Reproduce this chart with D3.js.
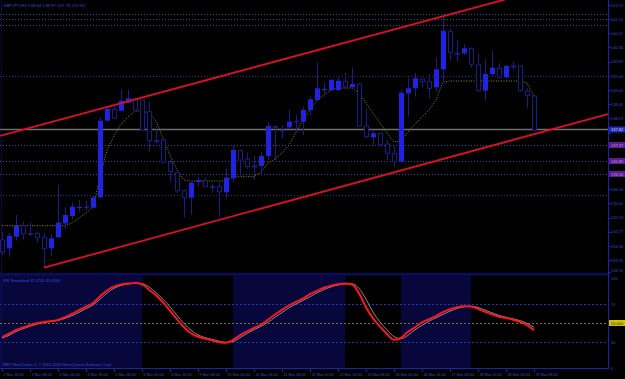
<!DOCTYPE html>
<html lang="en">
<head>
<meta charset="utf-8">
<title>GBPJPY,H4</title>
<style>
  html, body { margin: 0; padding: 0; background: #000; }
  svg { display: block; }
  text { font-family: "Liberation Sans", Arial, sans-serif; }
</style>
</head>
<body>
<script src="https://d3js.org/d3.v7.min.js"></script>
<script>
// H4 bars
const barOpen = [134.52,134.27,134.62,134.95,134.71,134.72,134.60,134.27,134.60,135.02,
  135.24,135.50,135.51,135.49,135.80,138.10,138.44,138.40,138.64,138.75,
  138.72,138.37,137.50,137.52,136.85,136.54,136.00,135.79,136.26,136.30,
  136.12,136.12,135.95,136.37,137.20,136.94,136.74,136.74,137.04,137.93,
  137.82,137.90,138.07,138.07,138.42,138.72,139.04,139.02,139.02,139.27,
  139.10,139.20,137.94,137.60,137.72,137.40,137.12,136.87,138.92,139.07,
  139.35,139.27,139.10,139.64,140.77,140.12,140.12,140.27,139.77,139.00,
  139.50,139.67,139.40,139.74,139.74,138.99,138.84];
const barHigh = [134.76,134.73,135.27,135.07,135.04,134.77,134.72,134.70,136.17,135.50,
  135.64,135.72,135.70,135.87,138.22,138.52,138.60,139.04,139.02,138.80,
  138.74,138.67,137.92,137.60,136.92,136.57,136.04,136.27,136.42,136.38,
  136.22,136.27,136.67,137.37,137.24,137.14,137.04,137.17,138.07,137.94,
  137.97,138.42,138.27,138.52,138.82,139.84,139.24,139.37,139.40,139.54,
  139.70,139.22,138.47,137.82,137.74,137.52,137.34,139.02,139.38,139.54,
  139.37,139.50,140.00,141.22,140.87,140.52,140.39,140.29,140.12,139.97,
  140.19,139.82,139.77,139.87,139.77,139.07,138.87];
const barLow = [134.07,134.02,134.50,134.54,134.64,134.44,133.69,134.04,134.59,134.84,
  135.14,135.37,135.40,135.47,135.79,138.07,138.14,138.37,138.62,138.41,
  137.81,137.17,137.42,136.82,136.27,135.94,135.20,135.27,136.14,136.11,
  135.92,135.22,135.77,136.24,136.44,136.65,136.32,136.44,136.92,136.92,
  137.57,137.87,137.74,137.67,138.27,138.70,138.82,139.00,139.00,139.10,
  139.07,137.92,137.57,137.37,137.32,136.92,136.72,136.86,138.22,138.82,
  139.10,138.77,138.97,139.27,139.89,139.87,140.07,139.69,138.97,138.70,
  139.42,139.37,139.37,139.62,138.97,138.47,137.79];
const barClose = [134.16,134.64,134.95,134.70,134.70,134.60,134.27,134.57,135.04,135.27,
  135.52,135.51,135.52,135.80,138.10,138.45,138.17,138.70,138.77,138.42,
  137.82,137.50,137.49,136.85,136.57,136.00,135.80,136.24,136.32,136.12,
  136.11,135.97,136.39,137.22,136.92,136.72,136.73,137.04,137.94,137.91,
  137.83,138.07,138.08,138.42,138.74,139.07,139.05,139.32,139.30,139.12,
  139.20,137.94,137.62,137.72,137.37,137.12,136.87,138.94,139.07,139.37,
  139.27,139.07,139.64,140.79,140.14,140.11,140.27,139.79,139.00,139.50,
  139.69,139.40,139.74,139.73,139.00,138.85,137.82];

// yellow dotted line on the price chart
const midLine = [134.95,134.95,134.95,134.95,134.95,134.95,134.95,134.95,134.95,134.95,
  135.03,135.18,135.33,135.51,136.41,137.22,137.64,138.00,138.21,138.39,
  138.39,138.33,138.09,137.58,137.07,136.62,136.32,136.29,136.29,136.29,
  136.29,136.29,136.29,136.41,136.42,136.42,136.42,136.56,136.83,136.95,
  137.13,137.37,137.76,138.12,138.42,138.72,138.87,139.02,139.08,139.08,
  139.08,138.93,138.63,138.33,138.03,137.73,137.46,137.49,137.76,138.00,
  138.21,138.42,138.72,139.26,139.29,139.29,139.29,139.29,139.29,139.29,
  139.29,139.29,139.29,139.29,139.29,139.23,138.84];

// oscillator panel
const rsiMain = [35.05,38.74,42.63,45.26,47.68,49.68,51.16,52.0,53.16,56.21,
  59.58,63.47,67.16,70.95,78.0,84.21,88.21,90.53,91.58,92.0,
  90.84,85.05,79.26,71.68,62.95,54.0,45.58,39.26,35.58,33.68,
  31.68,29.79,29.26,32.11,37.05,41.16,44.74,48.21,53.47,58.95,
  63.89,68.42,72.21,75.58,80.32,83.79,87.16,89.26,90.84,91.58,
  90.53,81.37,66.63,54.84,46.11,38.42,32.32,34.21,40.84,45.47,
  50.63,54.0,57.26,61.37,64.42,66.53,67.68,67.37,64.84,61.89,
  59.05,56.63,55.16,53.47,51.16,47.79,42.47];
const rsiSignal = [34,37,41,44,46.6,48.8,50.5,51.6,52.7,54.9,
  57.7,61.3,65.1,69,75,81.5,86.5,89.5,91.1,91.8,
  91.5,88,82,75,67,58,49.5,42.5,37.5,34.6,
  32.8,30.9,29.6,30.5,34.5,39,43,46.5,50.8,56,
  61,66,70,73.8,77.7,81.8,85.2,88,90,91.2,
  91.2,86.5,75,61.5,51,42.8,35.8,33.5,37,42.8,
  47.5,52,55.5,59,62.5,65.3,67,67.6,66.4,63.6,
  60.7,58,56,54.4,52.5,49.7,45.44];
const risingZones = [[-1, 20], [33, 49], [57, 67]];
const oscLevels = [70, 30];
const oscMid = 50;
const oscTicks = [100, 70, 30, 0];

// objects on the price chart
const channelLow = [[6, 133.69], [63, 136.95]];
const channelHighAt63 = 141.22;
const dottedPurple = [141.30, 141.15, 140.97];
const dottedNavy = [139.44, 135.87];
const markedLevels = [137.37, 136.89, 136.50];

// axes
const priceTicks = [141.57,141.15,140.72,140.30,139.87,139.44,139.02,138.60,138.17,137.74,
  137.32,136.90,136.47,136.04,135.62,135.19,134.77,134.34,133.92,133.50];
const timeLabels = ["2 Mar 16:00","3 Mar 08:00","4 Mar 00:00","4 Mar 16:00","5 Mar 08:00",
  "6 Mar 00:00","6 Mar 16:00","9 Mar 08:00","10 Mar 00:00","10 Mar 16:00",
  "11 Mar 08:00","12 Mar 00:00","12 Mar 16:00","13 Mar 08:00","16 Mar 00:00",
  "16 Mar 16:00","17 Mar 08:00","18 Mar 00:00","18 Mar 16:00","19 Mar 08:00"];

const W = 625, H = 379;
const axisX = 608, mainBottom = 273, oscBottom = 368;
const textCol = "#3a48d6";
const last = barClose.length - 1;

const svg = d3.select("body").append("svg")
    .attr("width", W).attr("height", H)
    .style("background", "#000");

const x = d3.scaleLinear().domain([0, 76]).range([2, 534]);
const y = d3.scaleLinear().domain([133.56, 141.72]).range([272, 0]);
const yo = d3.scaleLinear().domain([0, 100]).range([370.5, 275.5]);

const defs = svg.append("defs");
defs.append("clipPath").attr("id", "mainClip")
    .append("rect").attr("x", 0).attr("y", 0).attr("width", axisX).attr("height", mainBottom);
defs.append("clipPath").attr("id", "oscClip")
    .append("rect").attr("x", 0).attr("y", 275).attr("width", axisX).attr("height", oscBottom - 275);

const main = svg.append("g").attr("clip-path", "url(#mainClip)");
const osc = svg.append("g").attr("clip-path", "url(#oscClip)");

//horizontal objects
main.selectAll(".lvlP").data(dottedPurple.concat(markedLevels)).enter().append("line")
    .attr("x1", 0).attr("x2", axisX)
    .attr("y1", d => Math.round(y(d)) + 0.5).attr("y2", d => Math.round(y(d)) + 0.5)
    .attr("stroke", "#4f3c9e").attr("stroke-dasharray", "1,2");
main.selectAll(".lvlN").data(dottedNavy).enter().append("line")
    .attr("x1", 0).attr("x2", axisX)
    .attr("y1", d => Math.round(y(d)) + 0.5).attr("y2", d => Math.round(y(d)) + 0.5)
    .attr("stroke", "#2a2a86").attr("stroke-dasharray", "1,2");

//bid line
main.append("line")
    .attr("x1", 0).attr("x2", axisX)
    .attr("y1", y(barClose[last]) - 0.5).attr("y2", y(barClose[last]) - 0.5)
    .attr("stroke", "#6e6e6e").attr("stroke-width", 1.6);

//yellow dotted line
main.append("path")
    .datum(midLine)
    .attr("d", d3.line().x((d, i) => x(i)).y(d => y(d)))
    .attr("fill", "none").attr("stroke", "#8c8c1e")
    .attr("stroke-width", 1).attr("stroke-dasharray", "1,1.5");

//candles
const bars = d3.range(barOpen.length);
const cg = main.append("g");
cg.selectAll(".wick").data(bars).enter().append("line")
    .attr("x1", i => x(i) + 0.5).attr("x2", i => x(i) + 0.5)
    .attr("y1", i => y(barHigh[i])).attr("y2", i => y(barLow[i]))
    .attr("stroke", "#1c1c86");
cg.selectAll(".body").data(bars).enter().append("rect")
    .attr("x", i => barClose[i] > barOpen[i] ? x(i) - 2 : x(i) - 1.5)
    .attr("width", i => barClose[i] > barOpen[i] ? 5 : 4)
    .attr("y", i => y(Math.max(barOpen[i], barClose[i])))
    .attr("height", i => Math.max(1, Math.abs(y(barOpen[i]) - y(barClose[i]))))
    .attr("fill", i => barClose[i] > barOpen[i] ? "#2222e2" : "#000")
    .attr("stroke", i => barClose[i] > barOpen[i] ? "none" : "#1c1c86")
    .attr("stroke-width", 1);

//channel
const slope = (channelLow[1][1] - channelLow[0][1]) / (channelLow[1][0] - channelLow[0][0]);
const lowAt = b => channelLow[0][1] + (b - channelLow[0][0]) * slope;
const highAt = b => channelHighAt63 + (b - 63) * slope;
const bLeft = x.invert(0), bRight = x.invert(axisX);
main.append("line")
    .attr("x1", x(channelLow[0][0])).attr("y1", y(lowAt(channelLow[0][0])))
    .attr("x2", x(bRight)).attr("y2", y(lowAt(bRight)))
    .attr("stroke", "#dc0f2a").attr("stroke-width", 1.8);
main.append("line")
    .attr("x1", x(bLeft)).attr("y1", y(highAt(bLeft)) - 1.5)
    .attr("x2", x(bRight)).attr("y2", y(highAt(bRight)))
    .attr("stroke", "#dc0f2a").attr("stroke-width", 1.8);

//title
svg.append("text").attr("x", 3).attr("y", 7)
    .attr("font-size", 4.4).attr("fill", textCol)
    .text("GBPJPY,H4  " + [barOpen[last], barHigh[last], barLow[last], barClose[last]].map(d => d.toFixed(2)).join(" "));

//oscillator panel
osc.selectAll(".zone").data(risingZones).enter().append("rect")
    .attr("x", d => Math.max(0, x(d[0]))).attr("y", 275)
    .attr("width", d => x(d[1]) - Math.max(0, x(d[0])))
    .attr("height", oscBottom - 275)
    .attr("fill", "#07073c");
osc.selectAll(".olvl").data(oscLevels).enter().append("line")
    .attr("x1", 0).attr("x2", axisX)
    .attr("y1", d => Math.round(yo(d)) + 0.5).attr("y2", d => Math.round(yo(d)) + 0.5)
    .attr("stroke", "#2636a6").attr("stroke-dasharray", "2,2");
osc.append("line")
    .attr("x1", 0).attr("x2", axisX)
    .attr("y1", Math.round(yo(oscMid)) + 0.5).attr("y2", Math.round(yo(oscMid)) + 0.5)
    .attr("stroke", "#77771e").attr("stroke-dasharray", "2,2");
osc.append("path").datum(rsiSignal)
    .attr("d", d3.line().x((d, i) => x(i)).y(d => yo(d)).curve(d3.curveMonotoneX))
    .attr("fill", "none").attr("stroke", "#8a8a8a").attr("stroke-width", 1);
osc.append("path").datum(rsiMain)
    .attr("d", d3.line().x((d, i) => x(i)).y(d => yo(d)).curve(d3.curveMonotoneX))
    .attr("fill", "none").attr("stroke", "#ff1420").attr("stroke-width", 2);

svg.append("text").attr("x", 3).attr("y", 282)
    .attr("font-size", 4).attr("fill", textCol)
    .text("RSI Smoothed " + rsiMain[last].toFixed(4) + " " + rsiSignal[last].toFixed(4));
svg.append("text").attr("x", 3).attr("y", 366)
    .attr("font-size", 4).attr("fill", textCol)
    .text("MBT MetaTrader 4, \u00a9 2001-2009 MetaQuotes Software Corp.");

//frame
svg.append("line").attr("x1", 1.5).attr("x2", 1.5).attr("y1", 0).attr("y2", oscBottom)
    .attr("stroke", "#14146e").attr("stroke-dasharray", "1,1");
svg.append("rect").attr("x", 0).attr("y", mainBottom).attr("width", axisX).attr("height", 2.5)
    .attr("fill", "#0c0c5e");
svg.append("line").attr("x1", 0).attr("x2", axisX + 1).attr("y1", oscBottom + 0.5).attr("y2", oscBottom + 0.5)
    .attr("stroke", "#1c24a4");
svg.append("line").attr("x1", axisX + 0.5).attr("x2", axisX + 0.5).attr("y1", 0).attr("y2", oscBottom + 1)
    .attr("stroke", "#1c24a4");

//price axis; labels hidden where a level or bid box sits on top
const boxed = markedLevels.concat([barClose[last]]);
const freeTicks = priceTicks.filter(t => boxed.every(b => Math.abs(y(b) - y(t)) > 5.5));
const pa = svg.append("g");
pa.selectAll("line").data(priceTicks).enter().append("line")
    .attr("x1", axisX).attr("x2", axisX + 3)
    .attr("y1", d => Math.min(Math.round(y(d)), 272) + 0.5).attr("y2", d => Math.min(Math.round(y(d)), 272) + 0.5)
    .attr("stroke", "#1c24a4");
pa.selectAll("text").data(freeTicks).enter().append("text")
    .attr("x", axisX + 3).attr("y", d => Math.min(y(d) + 1.5, 272.3))
    .attr("font-size", 4).attr("fill", textCol)
    .text(d => d.toFixed(2));

//marked level labels
const ml = svg.append("g");
ml.selectAll("rect").data(markedLevels).enter().append("rect")
    .attr("x", axisX + 1).attr("y", d => y(d) - 3).attr("width", W - axisX - 1).attr("height", 6)
    .attr("fill", "#5c1c92");
ml.selectAll("text").data(markedLevels).enter().append("text")
    .attr("x", axisX + 3).attr("y", d => y(d) + 1.5)
    .attr("font-size", 4).attr("fill", "#b89ae6")
    .text(d => d.toFixed(2));

//bid label
svg.append("rect").attr("x", axisX + 1).attr("y", y(barClose[last]) - 3.5)
    .attr("width", W - axisX - 1).attr("height", 6).attr("fill", "#1e2cb0");
svg.append("text").attr("x", axisX + 3).attr("y", y(barClose[last]) + 1)
    .attr("font-size", 4).attr("fill", "#d0d4ff")
    .text(barClose[last].toFixed(2));

//oscillator axis
svg.selectAll(".otick").data(oscTicks).enter().append("text")
    .attr("x", axisX + 3).attr("y", d => Math.max(Math.min(yo(d), oscBottom) + 1.5, 280))
    .attr("font-size", 4).attr("fill", textCol)
    .text(d => d);
svg.append("rect").attr("x", axisX + 1).attr("y", yo(oscMid) - 3)
    .attr("width", W - axisX - 1).attr("height", 6).attr("fill", "#d2c200");
svg.append("text").attr("x", axisX + 3).attr("y", yo(oscMid) + 1.5)
    .attr("font-size", 4).attr("fill", "#302a00")
    .text(oscMid.toFixed(3));

//time axis
const ta = svg.append("g");
ta.selectAll("line").data(timeLabels).enter().append("line")
    .attr("x1", (d, k) => x(k * 4) + 0.5).attr("x2", (d, k) => x(k * 4) + 0.5)
    .attr("y1", oscBottom).attr("y2", oscBottom + 4)
    .attr("stroke", "#1c24a4");
ta.selectAll("text").data(timeLabels).enter().append("text")
    .attr("x", (d, k) => x(k * 4) + 1.5).attr("y", 376)
    .attr("font-size", 3.8).attr("fill", textCol)
    .text(d => d);
</script>
</body>
</html>
